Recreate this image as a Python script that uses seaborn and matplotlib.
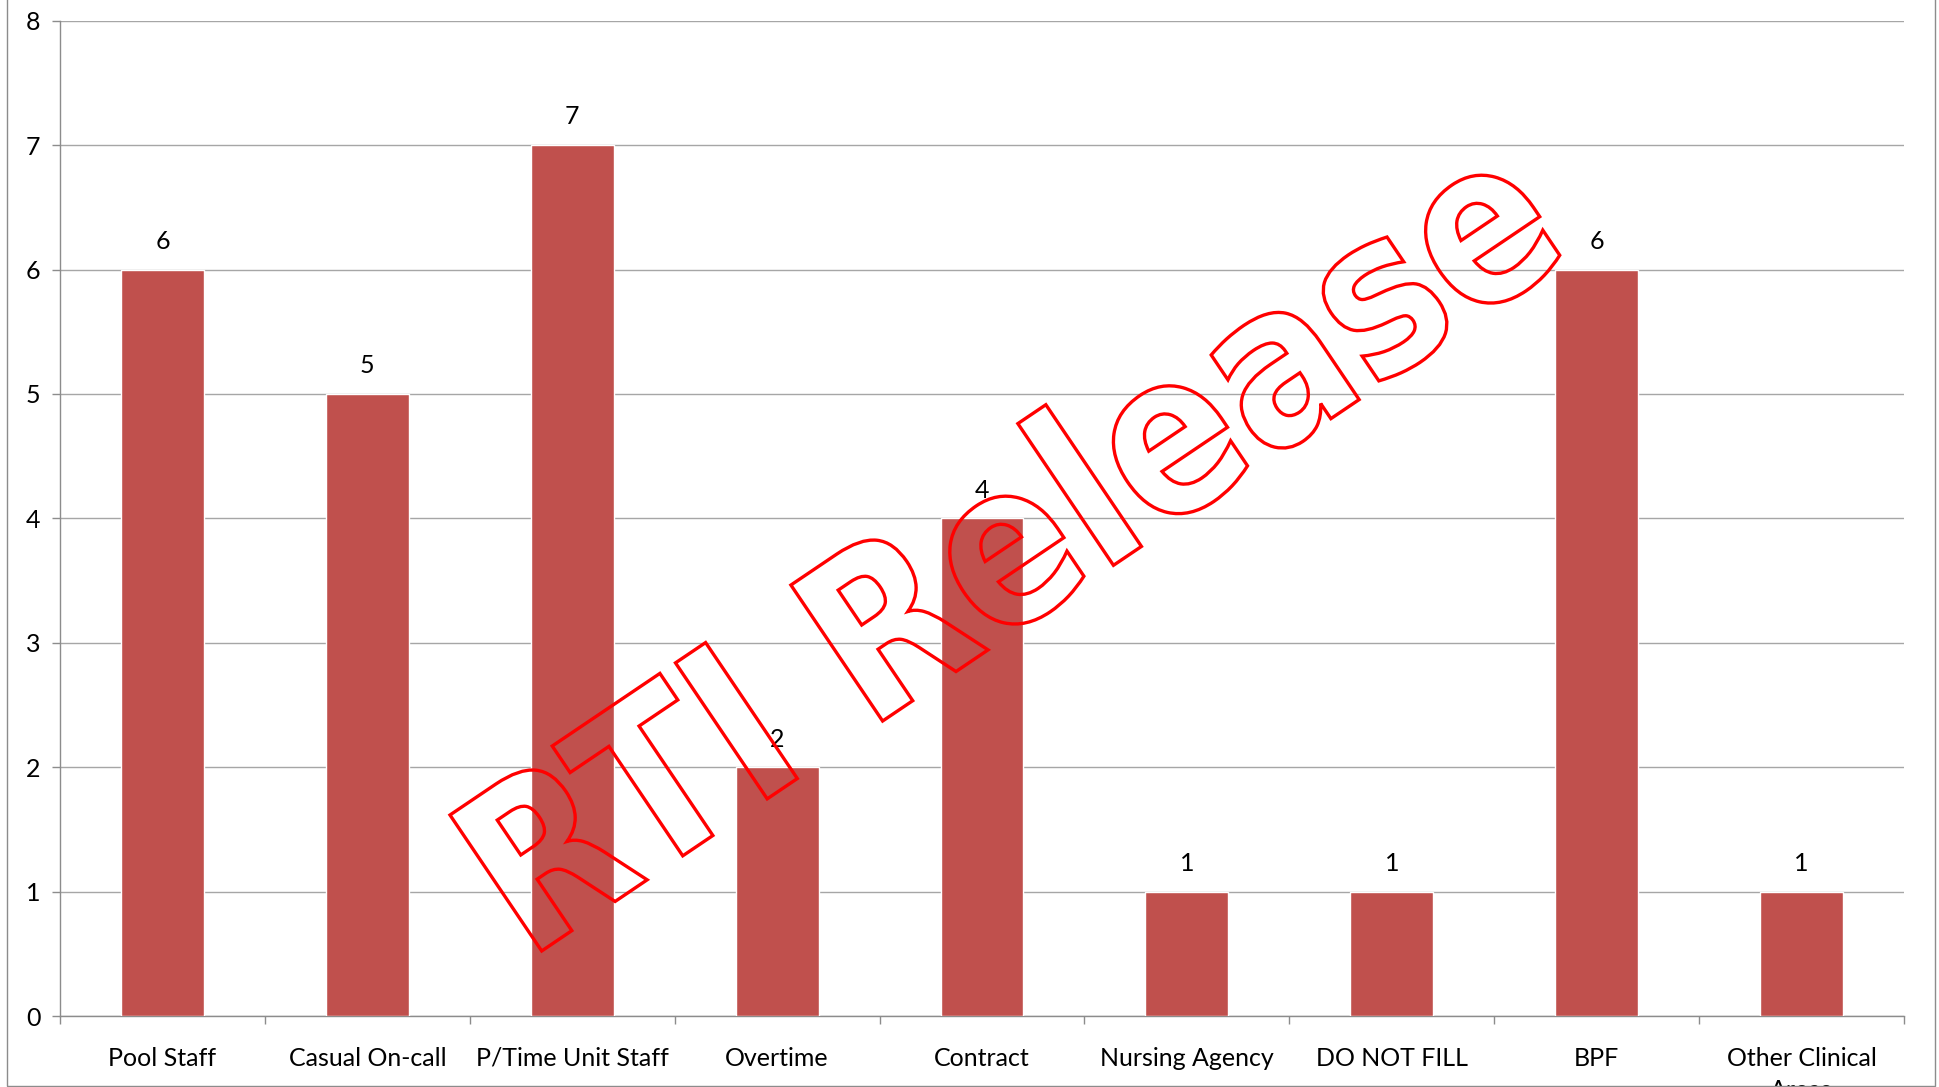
import matplotlib
matplotlib.use("Agg")
import matplotlib.pyplot as plt
import seaborn as sns
import pandas as pd
from matplotlib.textpath import TextPath
from matplotlib.font_manager import FontProperties
from matplotlib.patches import PathPatch, Rectangle
from matplotlib.transforms import Affine2D

categories = ["Pool Staff", "Casual On-call", "P/Time Unit Staff", "Overtime", "Contract",
              "Nursing Agency", "DO NOT FILL", "BPF", "Other Clinical\nAreas"]
values = [6, 5, 7, 2, 4, 1, 1, 6, 1]
y_ticks = [0, 1, 2, 3, 4, 5, 6, 7, 8]
watermark = "RTI Release"

sns.set_style("white")
plt.rcParams["font.family"] = ["Lato", "DejaVu Sans"]

W, H = 1940, 1087
fig = plt.figure(figsize=(W / 100, H / 100), dpi=100)
ax = fig.add_axes([60 / W, 71 / H, (1904 - 60) / W, (1016 - 20.7) / H])

df = pd.DataFrame({"cat": categories, "val": values})
sns.barplot(data=df, x="cat", y="val", color="#C0504D", saturation=1, width=0.405, ax=ax, zorder=3)

ax.set_ylim(0, 8)
ax.set_xlim(-0.5, len(categories) - 0.5)
ax.set_yticks(y_ticks)
ax.set_xlabel("")
ax.set_ylabel("")
ax.yaxis.grid(True, color="#a6a6a6", linewidth=1.0, zorder=0)
ax.set_axisbelow(True)

for s in ["top", "right"]:
    ax.spines[s].set_visible(False)
for s in ["left", "bottom"]:
    ax.spines[s].set_color("#8c8c8c")
    ax.spines[s].set_linewidth(1.0)

ax.tick_params(axis="y", which="major", length=6, width=1, color="#8c8c8c", pad=8,
               labelsize=18, labelcolor="black", direction="out", left=True)
ax.tick_params(axis="x", which="major", length=0, pad=22, labelsize=18, labelcolor="black")
for lbl in ax.get_xticklabels():
    lbl.set_linespacing(1.5)
ax.set_xticks([i - 0.5 for i in range(len(categories) + 1)], minor=True)
ax.tick_params(axis="x", which="minor", length=6, width=1, color="#8c8c8c", direction="out", bottom=True)

for c in ax.containers:
    ax.bar_label(c, labels=[str(v) for v in values], padding=12, fontsize=18, color="black")

# outer chart border
fig.patches.append(Rectangle((7 / W, 1.5 / H), (1935 - 7) / W, 2.0, transform=fig.transFigure,
                             fill=False, edgecolor="#8c8c8c", linewidth=1.0, zorder=0))

# watermark outline
tp = TextPath((0, 0), watermark, size=100, prop=FontProperties(family="DejaVu Sans", weight="bold"))
bb = tp.get_extents()
cap_h = 72.9
sx = 1238 / bb.width
sy = 164 / cap_h
tr = (Affine2D().translate(-bb.x0, -cap_h).scale(sx, sy).rotate_deg(34).translate(450, H - 815))
path = tr.transform_path(tp)
fig.patches.append(PathPatch(path, transform=None, facecolor="none", edgecolor="#ff0000",
                             linewidth=2.4, zorder=10))

fig.savefig("out.png", dpi=100)
